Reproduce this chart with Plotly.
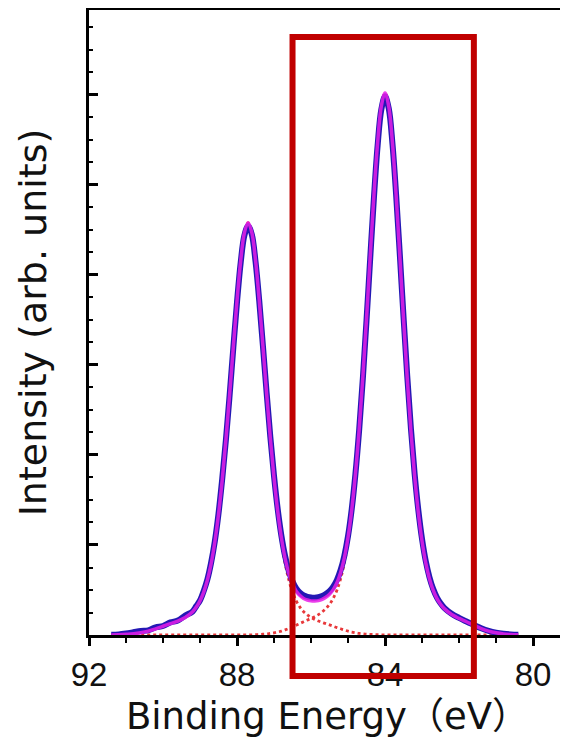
import plotly.graph_objects as go

# Binding energy grid (eV)
energy = [91.4, 91.2, 91.0, 90.8, 90.6, 90.4, 90.2, 90.0, 89.8, 89.6, 89.4,
          89.2, 89.1, 89.0, 88.9, 88.8, 88.7, 88.6, 88.5, 88.4, 88.3, 88.2, 88.1, 88.0,
          87.9, 87.8, 87.7, 87.6, 87.5, 87.4, 87.3, 87.2, 87.1, 87.0,
          86.9, 86.8, 86.7, 86.6, 86.5, 86.4, 86.3, 86.2, 86.1, 86.0,
          85.9, 85.8, 85.7, 85.6, 85.5, 85.4, 85.3, 85.2, 85.1, 85.0,
          84.9, 84.8, 84.7, 84.6, 84.5, 84.4, 84.3, 84.2, 84.1, 84.0,
          83.9, 83.8, 83.7, 83.6, 83.5, 83.4, 83.3, 83.2, 83.1, 83.0,
          82.9, 82.8, 82.7, 82.6, 82.5, 82.4,
          82.2, 82.0, 81.8, 81.6, 81.4, 81.2, 81.0, 80.8, 80.6, 80.4]

# Measured spectrum (blue)
measured = [0.004, 0.006, 0.016, 0.030, 0.045, 0.052, 0.085, 0.100, 0.140, 0.160, 0.215,
            0.262, 0.322, 0.385, 0.490, 0.620, 0.805, 1.040, 1.350, 1.735, 2.170, 2.665, 3.190, 3.700,
            4.140, 4.440, 4.545, 4.450, 4.150, 3.715, 3.210, 2.690, 2.200, 1.765,
            1.395, 1.100, 0.875, 0.710, 0.595, 0.518, 0.470, 0.440, 0.424, 0.416,
            0.414, 0.420, 0.433, 0.455, 0.488, 0.538, 0.612, 0.722, 0.880, 1.100,
            1.400, 1.790, 2.275, 2.850, 3.500, 4.190, 4.860, 5.440, 5.840, 5.985,
            5.850, 5.460, 4.885, 4.220, 3.530, 2.875, 2.290, 1.790, 1.385, 1.065,
            0.822, 0.642, 0.512, 0.418, 0.352, 0.302,
            0.236, 0.190, 0.150, 0.112, 0.075, 0.046, 0.026, 0.014, 0.007, 0.003]

# Fitted envelope (magenta)
fit_total = [0.001, 0.003, 0.007, 0.013, 0.025, 0.043, 0.069, 0.097, 0.126, 0.155, 0.195,
             0.259, 0.310, 0.379, 0.476, 0.611, 0.793, 1.034, 1.342, 1.722, 2.169, 2.670, 3.200, 3.715,
             4.161, 4.469, 4.581, 4.471, 4.165, 3.721, 3.209, 2.682, 2.187, 1.746,
             1.375, 1.077, 0.850, 0.683, 0.566, 0.487, 0.438, 0.406, 0.389, 0.379,
             0.377, 0.382, 0.396, 0.419, 0.453, 0.504, 0.580, 0.695, 0.857, 1.085,
             1.392, 1.789, 2.281, 2.864, 3.519, 4.213, 4.888, 5.472, 5.876, 6.021,
             5.874, 5.469, 4.883, 4.206, 3.510, 2.851, 2.263, 1.764, 1.359, 1.042,
             0.802, 0.626, 0.498, 0.407, 0.341, 0.293,
             0.227, 0.184, 0.147, 0.108, 0.072, 0.043, 0.024, 0.012, 0.006, 0.002]

# Component: Au 4f5/2 (red dotted)
comp_4f52 = [0.001, 0.003, 0.007, 0.013, 0.025, 0.043, 0.069, 0.097, 0.126, 0.155, 0.195,
             0.259, 0.310, 0.379, 0.476, 0.611, 0.793, 1.034, 1.342, 1.722, 2.169, 2.670, 3.200, 3.715,
             4.161, 4.469, 4.580, 4.469, 4.161, 3.715, 3.200, 2.670, 2.169, 1.722,
             1.342, 1.034, 0.793, 0.611, 0.476, 0.379, 0.310, 0.259, 0.223, 0.195,
             0.173, 0.155, 0.140, 0.126, 0.112, 0.097, 0.082, 0.069, 0.055, 0.043,
             0.033, 0.025, 0.018, 0.013, 0.009, 0.007, 0.005, 0.003, 0.002, 0.001,
             0.0, 0.0, 0.0, 0.0, 0.0, 0.0, 0.0, 0.0, 0.0, 0.0,
             0.0, 0.0, 0.0, 0.0, 0.0, 0.0,
             0.0, 0.0, 0.0, 0.0, 0.0, 0.0, 0.0, 0.0, 0.0, 0.0]

# Component: Au 4f7/2 (red dotted)
comp_4f72 = [0.0, 0.0, 0.0, 0.0, 0.0, 0.0, 0.0, 0.0, 0.0, 0.0, 0.0,
             0.0, 0.0, 0.0, 0.0, 0.0, 0.0, 0.0, 0.0, 0.0, 0.0, 0.0, 0.0, 0.0,
             0.0, 0.0, 0.001, 0.002, 0.004, 0.006, 0.009, 0.012, 0.018, 0.024,
             0.033, 0.043, 0.057, 0.072, 0.090, 0.108, 0.128, 0.147, 0.166, 0.184,
             0.204, 0.227, 0.256, 0.293, 0.341, 0.407, 0.498, 0.626, 0.802, 1.042,
             1.359, 1.764, 2.263, 2.851, 3.510, 4.206, 4.883, 5.469, 5.874, 6.020,
             5.874, 5.469, 4.883, 4.206, 3.510, 2.851, 2.263, 1.764, 1.359, 1.042,
             0.802, 0.626, 0.498, 0.407, 0.341, 0.293,
             0.227, 0.184, 0.147, 0.108, 0.072, 0.043, 0.024, 0.012, 0.006, 0.002]

x_ticks = [92, 88, 84, 80]
x_tick_labels = ["92", "88", "84", "80"]
highlight_range = [86.5, 81.6]  # boxed energy window (eV)

fig = go.Figure()
for comp in (comp_4f52, comp_4f72):
    fig.add_trace(go.Scatter(x=energy, y=comp, mode="lines", line_shape="spline",
                             line=dict(color="#e8383a", width=2.8, dash="dot"),
                             showlegend=False))
fig.add_trace(go.Scatter(x=energy, y=measured, mode="lines", line_shape="spline",
                         line=dict(color="#2418b4", width=6), showlegend=False))
fig.add_trace(go.Scatter(x=energy, y=fit_total, mode="lines", line_shape="spline",
                         line=dict(color="#e81ee8", width=3.5), opacity=0.85,
                         showlegend=False))

# figure height 733 -> plot area spans 625 px; box from y=676 to y=37 (page px)
fig.add_shape(type="rect", xref="x", yref="paper",
              x0=highlight_range[0], x1=highlight_range[1],
              y0=-0.0656, y1=0.957,
              line=dict(color="#c00000", width=6), fillcolor="rgba(0,0,0,0)",
              layer="above")

fig.update_layout(
    width=560, height=733,
    margin=dict(l=81, r=2, t=2, b=106),
    paper_bgcolor="white", plot_bgcolor="white",
    showlegend=False,
    xaxis=dict(
        range=[92, 79.11], autorange=False,
        tickmode="array", tickvals=x_ticks, ticktext=x_tick_labels,
        ticks="outside", ticklen=8, tickwidth=2.5, tickcolor="black",
        minor=dict(dtick=1, ticks="outside", ticklen=5, tickwidth=1.5, tickcolor="black", showgrid=False),
        showgrid=False, zeroline=False,
        showline=True, linecolor="black", linewidth=3, mirror=True,
        tickfont=dict(family="Liberation Sans, Arial, sans-serif", size=33, color="#111"),
        title=dict(text="Binding Energy（eV）",
                   font=dict(family="DejaVu Sans, Noto Sans CJK JP, sans-serif", size=37, color="#111"),
                   standoff=12),
        automargin=False,
    ),
    yaxis=dict(
        range=[0, 6.944], autorange=False,
        dtick=1, tick0=0,
        ticks="inside", ticklen=9, tickwidth=2.5, tickcolor="black",
        minor=dict(dtick=0.25, ticks="inside", ticklen=4, tickwidth=1.5, tickcolor="black", showgrid=False),
        showticklabels=False, showgrid=False, zeroline=False,
        showline=True, linecolor="black", linewidth=3, mirror=False,
        title=dict(text="Intensity (arb. units)",
                   font=dict(family="DejaVu Sans, Noto Sans CJK JP, sans-serif", size=38, color="#111"),
                   standoff=28),
        automargin=False,
    ),
)

fig.write_html("out.html")
